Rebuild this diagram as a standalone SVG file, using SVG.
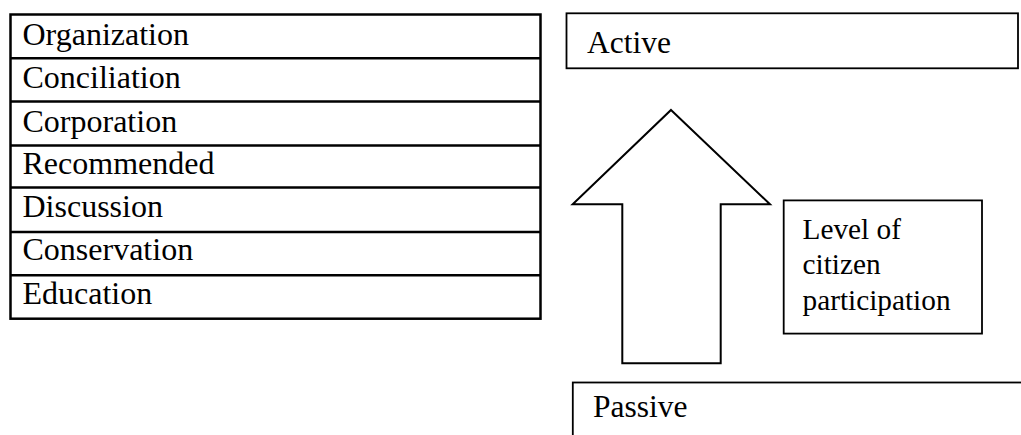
<svg xmlns="http://www.w3.org/2000/svg" width="1021" height="435" viewBox="0 0 1021 435">
<style>
  .tbl { fill: #fff; stroke: #000; stroke-width: 2.5; }
  .box { fill: #fff; stroke: #000; stroke-width: 1.8; }
  .rowline { stroke: #000; stroke-width: 2.5; }
</style>
<rect width="1021" height="435" fill="#fff"/>
<g id="table" font-family="'Liberation Serif', 'Times New Roman', serif" font-size="32" fill="#000">
  <rect class="tbl" x="10.5" y="14.5" width="530" height="304.2"/>
  <line class="rowline" x1="10.5" y1="58.2" x2="540.5" y2="58.2"/>
  <line class="rowline" x1="10.5" y1="101.5" x2="540.5" y2="101.5"/>
  <line class="rowline" x1="10.5" y1="145.5" x2="540.5" y2="145.5"/>
  <line class="rowline" x1="10.5" y1="187.5" x2="540.5" y2="187.5"/>
  <line class="rowline" x1="10.5" y1="232" x2="540.5" y2="232"/>
  <line class="rowline" x1="10.5" y1="275.3" x2="540.5" y2="275.3"/>
  <text x="22.5" y="44.5">Organization</text>
  <text x="22.5" y="88.2">Conciliation</text>
  <text x="22.5" y="131.5">Corporation</text>
  <text x="22.5" y="174.3">Recommended</text>
  <text x="22.5" y="217">Discussion</text>
  <text x="22.5" y="260.3">Conservation</text>
  <text x="22.5" y="303.5">Education</text>
</g>
<g id="active" font-family="'Liberation Serif', 'Times New Roman', serif" font-size="31.5" fill="#000">
  <rect class="box" x="566.5" y="13.3" width="451.5" height="55"/>
  <text x="587" y="53">Active</text>
</g>
<g id="arrow">
  <polygon points="671,110 770,204.3 720.7,204.3 720.7,363.3 622.3,363.3 622.3,204.3 572.7,204.3" fill="#fff" stroke="#000" stroke-width="2" stroke-linejoin="miter"/>
</g>
<g id="level" font-family="'Liberation Serif', 'Times New Roman', serif" font-size="29.3" fill="#000">
  <rect class="box" x="783.7" y="200.4" width="198.3" height="133.2"/>
  <text x="802.5" y="238.7">Level of</text>
  <text x="802.5" y="274.3">citizen</text>
  <text x="802.5" y="310">participation</text>
</g>
<g id="passive" font-family="'Liberation Serif', 'Times New Roman', serif" font-size="31.5" fill="#000">
  <rect class="box" x="572.8" y="382.5" width="460" height="80"/>
  <text x="593" y="416.7">Passive</text>
</g>
<g id="connectors"></g>
</svg>
